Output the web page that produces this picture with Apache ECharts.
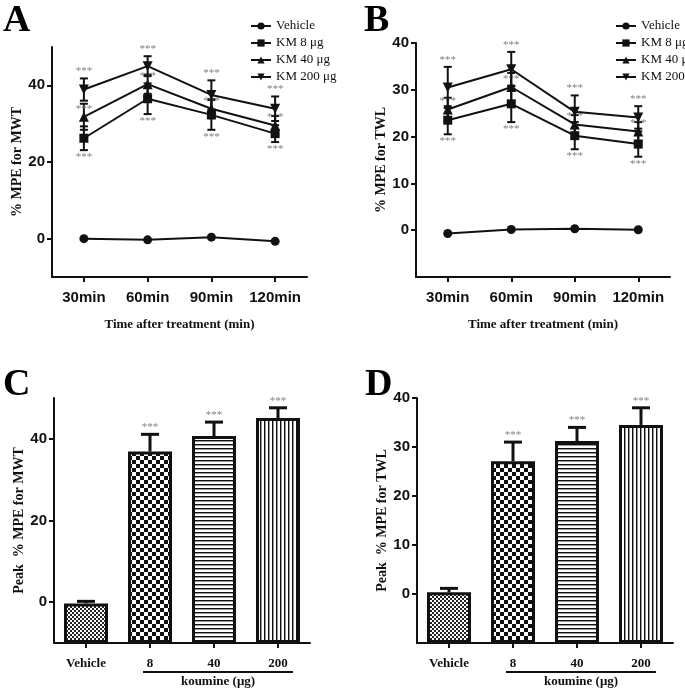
<!DOCTYPE html>
<html>
<head>
<meta charset="utf-8">
<title>Koumine % MPE</title>
<script src="https://cdn.jsdelivr.net/npm/echarts@6/dist/echarts.min.js"></script>
<style>
  html, body { margin: 0; padding: 0; background: #fff; }
  #chart { width: 685px; height: 693px; }
</style>
</head>
<body>
<div id="chart"></div>
<script>
// ---- data ----
const timeCats = ['30min', '60min', '90min', '120min']
const seriesNames = ['Vehicle', 'KM 8 μg', 'KM 40 μg', 'KM 200 μg']

// A: % MPE for MWT
const mwtVehicle = [0.0, -0.3, 0.4, -0.7]
const mwtKM8 = [26.2, 36.5, 32.3, 27.4]
const mwtKM8Err = [3.1, 4.0, 3.9, 2.2]
const mwtKM40 = [31.8, 40.3, 33.9, 29.5]
const mwtKM40Err = [3.4, 2.5, 2.5, 2.5]
const mwtKM200 = [38.9, 45.0, 37.5, 33.9]
const mwtKM200Err = [2.9, 2.6, 3.8, 3.2]

// B: % MPE for TWL
const twlVehicle = [-0.7, 0.15, 0.3, 0.1]
const twlKM8 = [23.5, 27.0, 20.2, 18.4]
const twlKM8Err = [3.0, 3.9, 2.9, 2.7]
const twlKM40 = [25.8, 30.6, 22.6, 21.1]
const twlKM40Err = [2.5, 3.0, 2.0, 2.0]
const twlKM200 = [30.5, 34.4, 25.3, 24.1]
const twlKM200Err = [4.4, 3.7, 3.5, 2.4]

// C / D: peak % MPE
const doseCats = ['Vehicle', '8', '40', '200']
const peakMWT = [-0.3, 36.9, 40.7, 45.1]
const peakMWTErr = [0.5, 4.2, 3.4, 2.5]
const peakTWL = [0.35, 27.1, 31.2, 34.5]
const peakTWLErr = [0.8, 3.9, 2.8, 3.5]

const ticksMWT = [0, 20, 40]
const ticksTWL = [0, 10, 20, 30, 40]

// ---- styles ----
const SERIF = '"Liberation Serif", "DejaVu Serif", serif'
const NARROW = '"Liberation Sans Narrow", "Liberation Sans", sans-serif'
const INK = '#111'
const STAR = '#808080'

// fill patterns for the bars
function makePattern (w, h, draw) {
  const c = document.createElement('canvas')
  c.width = w
  c.height = h
  const ctx = c.getContext('2d')
  ctx.fillStyle = '#fff'
  ctx.fillRect(0, 0, w, h)
  draw(ctx)
  return { image: c, repeat: 'repeat' }
}
const patterns = [
  // fine checker
  makePattern(4, 4, ctx => {
    ctx.fillStyle = '#222'
    ctx.fillRect(0, 0, 2, 2)
    ctx.fillRect(2, 2, 2, 2)
  }),
  // coarse checker
  makePattern(8, 8, ctx => {
    ctx.fillStyle = '#111'
    ctx.fillRect(0, 0, 4, 4)
    ctx.fillRect(4, 4, 4, 4)
  }),
  // horizontal lines
  makePattern(4, 4, ctx => {
    ctx.fillStyle = '#111'
    ctx.fillRect(0, 0, 4, 1)
    ctx.fillStyle = '#999'
    ctx.fillRect(0, 1, 4, 1)
  }),
  // vertical lines
  makePattern(4, 4, ctx => {
    ctx.fillStyle = '#111'
    ctx.fillRect(0, 0, 1, 4)
    ctx.fillStyle = '#999'
    ctx.fillRect(1, 0, 1, 4)
  })
]

const symbols = ['circle', 'rect', 'triangle', 'path://M0,0 L10,0 L5,9 Z']
const symbolSizes = [9, 9, 10, 10]

// ---- helpers ----
function valueAxis (gridIndex, min, max, ticks, name, extra) {
  return Object.assign({
    type: 'value',
    gridIndex,
    min,
    max,
    axisLine: { show: true, onZero: false, lineStyle: { color: INK, width: 2 } },
    axisTick: { show: true, length: 5, customValues: ticks, lineStyle: { color: INK, width: 2 } },
    axisLabel: {
      customValues: ticks,
      margin: 7,
      color: INK,
      fontFamily: NARROW,
      fontWeight: 'bold',
      fontSize: 15
    },
    splitLine: { show: false },
    name,
    nameLocation: 'middle',
    nameRotate: 90,
    nameGap: 27,
    nameTextStyle: { color: INK, fontFamily: SERIF, fontWeight: 'bold', fontSize: 14 }
  }, extra || {})
}

function categoryAxis (gridIndex, data, labelStyle, name) {
  return {
    type: 'category',
    gridIndex,
    data,
    boundaryGap: true,
    axisLine: { show: true, onZero: false, lineStyle: { color: INK, width: 2 } },
    axisTick: { show: true, alignWithLabel: true, length: 5, lineStyle: { color: INK, width: 2 } },
    axisLabel: Object.assign({ color: INK, margin: 13, interval: 0 }, labelStyle),
    splitLine: { show: false },
    name: name || '',
    nameLocation: 'middle',
    nameGap: 41,
    nameTextStyle: { color: INK, fontFamily: SERIF, fontWeight: 'bold', fontSize: 13 }
  }
}

// error bars (+ significance stars) as a custom series
function errorBars (axisIndex, means, errs, opt) {
  return {
    type: 'custom',
    xAxisIndex: axisIndex,
    yAxisIndex: axisIndex,
    silent: true,
    z: opt.z || 1,
    data: means.map((m, i) => [i, m, errs[i]]),
    renderItem (params, api) {
      const i = api.value(0)
      const m = api.value(1)
      const e = api.value(2)
      const p = api.coord([i, m])
      const hi = api.coord([i, m + e])
      const lo = api.coord([i, opt.upOnly ? m : m - e])
      const hw = opt.cap / 2
      const st = { stroke: INK, lineWidth: opt.width }
      const kids = [
        { type: 'line', shape: { x1: p[0], y1: hi[1], x2: p[0], y2: lo[1] }, style: st },
        { type: 'line', shape: { x1: p[0] - hw, y1: hi[1], x2: p[0] + hw, y2: hi[1] }, style: st }
      ]
      if (!opt.upOnly) {
        kids.push({ type: 'line', shape: { x1: p[0] - hw, y1: lo[1], x2: p[0] + hw, y2: lo[1] }, style: st })
      }
      if (opt.star && !(opt.skipFirst && i === 0)) {
        let sy = hi[1] - 7
        if (opt.star === 'bottom') sy = lo[1] + 7
        if (opt.star === 'point') sy = p[1] - 8
        kids.push({
          type: 'text',
          style: {
            text: '***', x: p[0], y: sy, fill: STAR,
            font: '11px ' + SERIF, align: 'center', verticalAlign: 'middle'
          }
        })
      }
      return { type: 'group', children: kids }
    }
  }
}

function lineSeries (axisIndex, idx, values) {
  return {
    type: 'line',
    name: seriesNames[idx],
    xAxisIndex: axisIndex,
    yAxisIndex: axisIndex,
    data: values,
    symbol: symbols[idx],
    symbolSize: symbolSizes[idx],
    z: 3,
    lineStyle: { color: INK, width: 2 },
    itemStyle: { color: INK },
    emphasis: { disabled: true }
  }
}

function legendFor (left) {
  return {
    data: seriesNames,
    orient: 'vertical',
    left,
    top: 14,
    itemWidth: 20,
    itemHeight: 9,
    itemGap: 3,
    selectedMode: false,
    textStyle: { color: INK, fontFamily: SERIF, fontSize: 13, lineHeight: 14 }
  }
}

function panelLetter (text, x, y) {
  return {
    type: 'text',
    x,
    y,
    style: { text, fill: '#000', font: 'bold 38px ' + SERIF }
  }
}

const lineLabel = { fontFamily: NARROW, fontWeight: 'bold', fontSize: 15 }
const doseLabel = { fontFamily: SERIF, fontWeight: 'bold', fontSize: 13, margin: 14 }

const chart = echarts.init(document.getElementById('chart'))

chart.setOption({
  animation: false,
  backgroundColor: '#fff',
  grid: [
    { left: 52, top: 47, width: 255, height: 230, outerBoundsMode: 'none' },
    { left: 416, top: 43, width: 254, height: 234, outerBoundsMode: 'none' },
    { left: 54, top: 398, width: 256, height: 245, outerBoundsMode: 'none' },
    { left: 417, top: 398, width: 256, height: 245, outerBoundsMode: 'none' }
  ],
  xAxis: [
    categoryAxis(0, timeCats, lineLabel, 'Time after treatment (min)'),
    categoryAxis(1, timeCats, lineLabel, 'Time after treatment (min)'),
    categoryAxis(2, doseCats, doseLabel),
    categoryAxis(3, doseCats, doseLabel)
  ],
  yAxis: [
    valueAxis(0, -10, 50, ticksMWT, '% MPE for MWT'),
    valueAxis(1, -10, 40, ticksTWL, '% MPE for TWL'),
    valueAxis(2, -10, 50, ticksMWT, 'Peak  % MPE for MWT', { startValue: -10 }),
    valueAxis(3, -10, 40, ticksTWL, 'Peak  % MPE for TWL', { startValue: -10 })
  ],
  legend: [legendFor(245), legendFor(610)],
  series: [
    // A
    errorBars(0, mwtKM8, mwtKM8Err, { cap: 8, width: 2, star: 'bottom' }),
    errorBars(0, mwtKM40, mwtKM40Err, { cap: 8, width: 2, star: 'point' }),
    errorBars(0, mwtKM200, mwtKM200Err, { cap: 8, width: 2, star: 'top' }),
    lineSeries(0, 0, mwtVehicle),
    lineSeries(0, 1, mwtKM8),
    lineSeries(0, 2, mwtKM40),
    lineSeries(0, 3, mwtKM200),
    // B
    errorBars(1, twlKM8, twlKM8Err, { cap: 8, width: 2, star: 'bottom' }),
    errorBars(1, twlKM40, twlKM40Err, { cap: 8, width: 2, star: 'point' }),
    errorBars(1, twlKM200, twlKM200Err, { cap: 8, width: 2, star: 'top' }),
    lineSeries(1, 0, twlVehicle),
    lineSeries(1, 1, twlKM8),
    lineSeries(1, 2, twlKM40),
    lineSeries(1, 3, twlKM200),
    // C
    {
      type: 'bar',
      xAxisIndex: 2,
      yAxisIndex: 2,
      barWidth: 44,
      data: peakMWT.map((v, i) => ({ value: v, itemStyle: { color: patterns[i] } })),
      itemStyle: { borderColor: INK, borderWidth: 3 },
      emphasis: { disabled: true }
    },
    errorBars(2, peakMWT, peakMWTErr, { cap: 18, width: 3, upOnly: true, star: 'top', skipFirst: true, z: 3 }),
    // D
    {
      type: 'bar',
      xAxisIndex: 3,
      yAxisIndex: 3,
      barWidth: 44,
      data: peakTWL.map((v, i) => ({ value: v, itemStyle: { color: patterns[i] } })),
      itemStyle: { borderColor: INK, borderWidth: 3 },
      emphasis: { disabled: true }
    },
    errorBars(3, peakTWL, peakTWLErr, { cap: 18, width: 3, upOnly: true, star: 'top', skipFirst: true, z: 3 })
  ]
})

// underline for the koumine doses + group label, placed from the axis scale
function doseGroup (axisIndex) {
  const a = chart.convertToPixel({ xAxisIndex: axisIndex, yAxisIndex: axisIndex }, ['8', -10])
  const b = chart.convertToPixel({ xAxisIndex: axisIndex, yAxisIndex: axisIndex }, ['200', -10])
  const x1 = a[0] - 7
  const x2 = b[0] + 15
  const y = a[1] + 29
  return [
    { type: 'line', shape: { x1, y1: y, x2, y2: y }, style: { stroke: INK, lineWidth: 2 } },
    {
      type: 'text',
      x: (x1 + x2) / 2,
      y: y + 10,
      style: {
        text: 'koumine (μg)', fill: INK, font: 'bold 13px ' + SERIF,
        align: 'center', verticalAlign: 'middle'
      }
    }
  ]
}

chart.setOption({
  graphic: [
    panelLetter('A', 3, 2),
    panelLetter('B', 364, 2),
    panelLetter('C', 3, 366),
    panelLetter('D', 365, 366)
  ].concat(doseGroup(2), doseGroup(3))
})
</script>
</body>
</html>
